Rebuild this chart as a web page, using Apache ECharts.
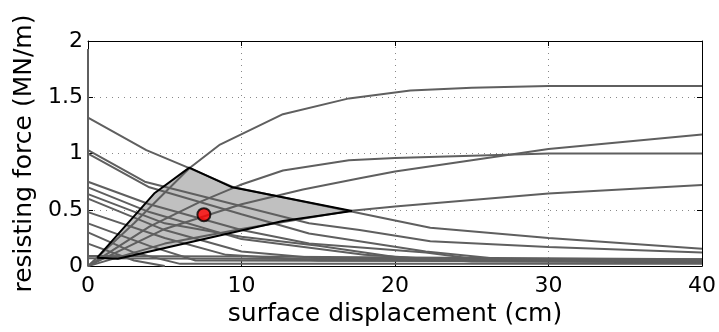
<!DOCTYPE html>
<html>
<head>
<meta charset="utf-8">
<script src="https://cdn.jsdelivr.net/npm/echarts@6/dist/echarts.min.js"></script>
<style>
  html, body { margin: 0; padding: 0; background: #fff; }
  #chart { width: 719px; height: 332px; }
</style>
</head>
<body>
<div id="chart"></div>
<script>
// Axis ranges and ticks
const xTicks = [0, 10, 20, 30, 40];
const yTicks = [0, 0.5, 1, 1.5, 2];

// Resisting-force curves, [displacement (cm), force (MN/m)]
const curveA = [[0,0],[3,0.38],[6.6,0.87],[8.6,1.08],[12.7,1.35],[17,1.49],[21,1.56],[25,1.585],[30,1.6],[40,1.6]];
const curveB = [[0,0],[5,0.33],[10,0.55],[14,0.68],[17.7,0.78],[20,0.84],[25,0.94],[30,1.04],[40,1.17]];
const curveC = [[0,0],[4,0.35],[7.3,0.57],[9.9,0.72],[12.7,0.85],[17,0.94],[20,0.96],[30,1.0],[40,1.0]];
const curveD = [[0,0],[5,0.2],[10,0.33],[17,0.49],[20,0.53],[30,0.645],[40,0.72]];
const curveE = [[0,1.32],[3.8,1.03],[6.6,0.87],[9.5,0.70],[17,0.49],[22.3,0.34],[30,0.25],[40,0.155]];
const curveF = [[0,1.03],[3.7,0.75],[9.5,0.55],[14.4,0.38],[17.7,0.32],[22.3,0.22],[30,0.17],[40,0.12]];
const curveG = [[0,1.0],[4,0.70],[10,0.46],[14.4,0.29],[22,0.13],[27,0.06],[40,0.05]];
const curveH = [[0,0.75],[4,0.55],[10,0.32],[14.4,0.2],[22,0.12],[26,0.05],[40,0.04]];
const curveI = [[0,0.70],[4,0.48],[10,0.24],[18,0.10],[25,0.04],[40,0.035]];
const curveJ = [[0,0.64],[5,0.38],[10,0.26],[15,0.18],[20,0.08],[24,0.045],[40,0.045]];
const curveK = [[0,0.60],[5,0.32],[10,0.13],[15,0.07],[40,0.06]];
const curveL = [[0,0.48],[5,0.25],[9,0.10],[15,0.05],[40,0.05]];
const curveM = [[0,0.38],[4,0.18],[7,0.05],[40,0.04]];
const curveN = [[0,0.30],[3,0.12],[6,0.02],[40,0.02]];
const curveO = [[0,0.20],[3,0.05],[5,0.0]];
const curveP = [[0,0.09],[10,0.085],[40,0.06]];
const curveQ = [[0,0.07],[40,0.05]];
const curveR = [[0,1.93],[0,0]];
const curves = [curveA, curveB, curveC, curveD, curveE, curveF, curveG, curveH, curveI,
                curveJ, curveK, curveL, curveM, curveN, curveO, curveP, curveQ, curveR];

// Shaded envelope and its mean point
const envelope = [[0.6,0.075],[1.95,0.066],[12.7,0.40],[17.2,0.49],[9.4,0.70],[6.6,0.875],[4.35,0.65],[0.6,0.075]];
const meanPoint = [[7.55,0.457]];

const font = 'DejaVu Sans';
const chart = echarts.init(document.getElementById('chart'), null, { renderer: 'canvas' });

const baseX = {
  type: 'value', min: 0, max: 40, interval: 10,
  axisLine: { show: true, onZero: false, lineStyle: { color: '#000', width: 1 } },
  axisTick: { show: true, inside: true, length: 5, lineStyle: { color: '#000' } },
  splitLine: { show: false }
};
const baseY = {
  type: 'value', min: 0, max: 2, interval: 0.5,
  axisLine: { show: true, onZero: false, lineStyle: { color: '#000', width: 1 } },
  axisTick: { show: true, inside: true, length: 5, lineStyle: { color: '#000' } },
  splitLine: { show: false }
};

const lineSeries = curves.map(c => ({
  type: 'line', xAxisIndex: 0, yAxisIndex: 0, data: c,
  showSymbol: false, symbol: 'none', silent: true, animation: false, zlevel: 1, z: 3,
  lineStyle: { color: '#5f5f5f', width: 2 }
}));

chart.setOption({
  animation: false,
  grid: { left: 88, top: 41, width: 616, height: 230, containLabel: false },
  xAxis: [
    Object.assign({}, baseX, {
      position: 'bottom',
      name: 'surface displacement (cm)', nameLocation: 'middle', nameGap: 34,
      nameTextStyle: { fontFamily: font, fontSize: 25, color: '#000' },
      axisLabel: { show: true, margin: 9, fontFamily: font, fontSize: 22, color: '#000',
                   formatter: v => xTicks.indexOf(v) >= 0 ? String(v) : '' },
      splitLine: { show: true, lineStyle: { color: '#888', width: 1, type: [1, 5] } }
    }),
    Object.assign({}, baseX, { position: 'top', axisLabel: { show: false } })
  ],
  yAxis: [
    Object.assign({}, baseY, {
      position: 'left',
      name: 'resisting force (MN/m)', nameLocation: 'middle', nameGap: 50, nameRotate: 90,
      nameTextStyle: { fontFamily: font, fontSize: 25, color: '#000' },
      axisLabel: { show: true, margin: 5, fontFamily: font, fontSize: 22, color: '#000',
                   formatter: v => yTicks.indexOf(v) >= 0 ? String(v) : '' },
      splitLine: { show: true, lineStyle: { color: '#888', width: 1, type: [1, 5] } }
    }),
    Object.assign({}, baseY, { position: 'right', axisLabel: { show: false } })
  ],
  series: [
    {
      type: 'custom', xAxisIndex: 0, yAxisIndex: 0, zlevel: 0, z: 2, silent: true,
      data: [0],
      renderItem: (params, api) => ({
        type: 'polygon',
        shape: { points: envelope.map(p => api.coord(p)) },
        style: { fill: '#c0c0c0', stroke: 'none' }
      })
    },
    ...lineSeries,
    {
      type: 'line', data: envelope, xAxisIndex: 0, yAxisIndex: 0,
      showSymbol: false, symbol: 'none', silent: true, zlevel: 2, z: 5,
      lineStyle: { color: '#000', width: 2 }
    },
    {
      type: 'scatter', data: meanPoint, xAxisIndex: 0, yAxisIndex: 0, zlevel: 2, z: 6,
      symbol: 'circle', symbolSize: 13,
      itemStyle: { color: '#ff0000', borderColor: '#000', borderWidth: 2 }
    }
  ]
});
</script>
</body>
</html>
